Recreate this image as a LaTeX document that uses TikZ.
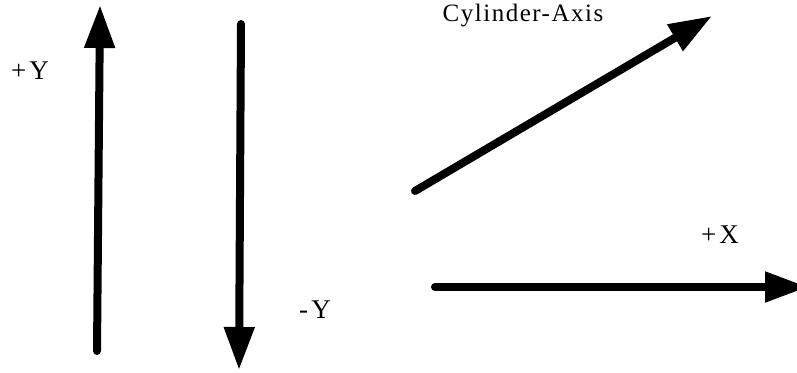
\documentclass[tikz,border=0pt]{standalone}
\usepackage{fontspec}
\setmainfont{Liberation Serif}
\newfontfamily\spaced[LetterSpace=6]{Liberation Serif}
\newfontfamily\wide[LetterSpace=12]{Liberation Serif}
\usetikzlibrary{arrows.meta}
\begin{document}
\begin{tikzpicture}[x=1pt,y=-1pt,
  axisarrow/.style={line width=8pt, line cap=round, -{Triangle[length=43pt,width=29pt]}},
  lbl/.style={anchor=base, inner sep=0pt, font=\wide\fontsize{27}{30}\selectfont}]
\useasboundingbox (0,0) rectangle (797,372);
\coordinate (py0) at (97,351);
\coordinate (py1) at (100,5);
\coordinate (my0) at (241,24);
\coordinate (my1) at (239,370);
\coordinate (c0) at (415,191);
\coordinate (c1) at (712,16);
\coordinate (x0) at (435,287);
\coordinate (x1) at (808,287);
\draw[axisarrow] (py0) -- (py1);
\draw[axisarrow] (my0) -- (my1);
\draw[axisarrow] (c0) -- (c1);
\draw[axisarrow] (x0) -- (x1);
\node[lbl] (ly) at (30,79) {+Y};
\node[lbl] (lmy) at (315,318) {-Y};
\node[lbl] (lx) at (720,243) {+X};
\node[lbl, font=\spaced\fontsize{25}{28}\selectfont] (lc) at (523,21) {Cylinder-Axis};
\end{tikzpicture}
\end{document}
